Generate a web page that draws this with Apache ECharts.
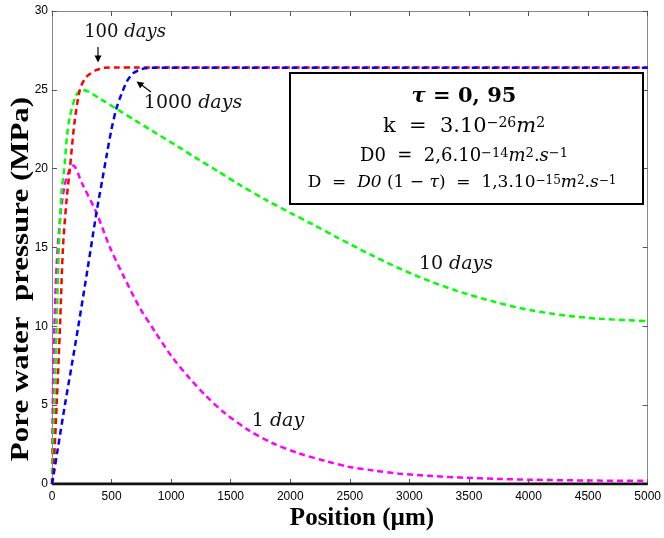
<!DOCTYPE html>
<html>
<head>
<meta charset="utf-8">
<script src="https://cdn.jsdelivr.net/npm/echarts@6/dist/echarts.min.js"></script>
<style>
  html, body { margin: 0; padding: 0; background: #fff; }
  #chart { width: 664px; height: 538px; }
</style>
</head>
<body>
<div id="chart"></div>
<script>
// ---- Data ----
const xTicks = [0, 500, 1000, 1500, 2000, 2500, 3000, 3500, 4000, 4500, 5000];
const yTicks = [0, 5, 10, 15, 20, 25, 30];

// 1 day (magenta)
const day1X = [0, 8, 20, 40, 70, 105, 140, 178, 250, 373, 484, 600, 735, 870, 1013, 1150, 1291, 1450, 1653, 1850, 2070, 2300, 2487, 2700, 2905, 3200, 3461, 3750, 4018, 4500, 5000];
const day1Y = [0, 6, 10, 14, 17, 18.9, 19.8, 20.2, 19.1, 17.2, 15.05, 13.2, 11.2, 9.6, 8.0, 6.75, 5.6, 4.5, 3.4, 2.6, 1.95, 1.45, 1.1, 0.86, 0.66, 0.5, 0.4, 0.32, 0.27, 0.22, 0.2];

// 10 days (green)
const day10X = [0, 10, 20, 39, 58, 81, 103, 125, 150, 200, 250, 300, 400, 540, 700, 818, 1068, 1194, 1400, 1569, 1800, 2000, 2200, 2404, 2700, 3044, 3400, 3740, 4000, 4297, 4600, 5000];
const day10Y = [0, 2.8, 5, 10, 15, 18.6, 20, 22, 23.3, 24.6, 25.0, 24.9, 24.45, 23.8, 23.05, 22.5, 21.35, 20.75, 19.8, 19.0, 18.0, 17.2, 16.42, 15.6, 14.45, 13.25, 12.25, 11.5, 11.05, 10.7, 10.48, 10.33];

// 100 days (red)
const day100X = [0, 15, 39, 67, 92, 122, 150, 190, 234, 275, 317, 370, 442, 550, 700, 1000, 2000, 3000, 4000, 5000];
const day100Y = [0, 1.2, 5, 10, 15, 18, 20, 23, 25, 25.7, 26.0, 26.25, 26.4, 26.42, 26.42, 26.42, 26.42, 26.42, 26.42, 26.42];

// 1000 days (blue)
const day1000X = [0, 11, 50, 108, 165, 220, 300, 373, 420, 460, 498, 540, 582, 630, 679, 730, 776, 850, 1000, 2000, 3000, 4000, 5000];
const day1000Y = [0, 0.46, 2.3, 5.0, 7.5, 9.97, 13.7, 17.2, 19.2, 20.9, 22.45, 23.8, 24.7, 25.55, 26.04, 26.25, 26.36, 26.4, 26.4, 26.4, 26.4, 26.4, 26.4];

// initial state (black zero line)
const initX = [0, 5000];
const initY = [0, 0];

const seriesNames = ['1 day', '10 days', '100 days', '1000 days'];
const seriesColors = ['#ff00ff', '#00ff00', '#ff0000', '#0000ff'];

function pairs(xs, ys) { return xs.map((x, i) => [x, ys[i]]); }

const chart = echarts.init(document.getElementById('chart'), null, { renderer: 'canvas' });

const frameColor = '#8a8a8a';
const serif = '"Liberation Serif", "Times New Roman", serif';
const mathFont = '"DejaVu Serif", serif';

function dashed(name, data, color) {
  return {
    name: name, type: 'line', data: data, xAxisIndex: 0, yAxisIndex: 0,
    showSymbol: false, smooth: 0.3,
    lineStyle: { color: color, width: 2.5, type: [6, 4] },
    silent: true, animation: false
  };
}

function supStyle(size) { return { fontFamily: mathFont, fontSize: size, verticalAlign: 'top', fill: '#000' }; }
function rmStyle(size) { return { fontFamily: mathFont, fontSize: size, fill: '#000' }; }
function itStyle(size) { return { fontFamily: mathFont, fontStyle: 'italic', fontSize: size, fill: '#000' }; }

function arrowHead(tip, tail, len, half) {
  const dx = tail[0] - tip[0], dy = tail[1] - tip[1];
  const L = Math.sqrt(dx * dx + dy * dy);
  const ux = dx / L, uy = dy / L;
  const bx = tip[0] + ux * len, by = tip[1] + uy * len;
  return [tip, [bx - uy * half, by + ux * half], [bx + uy * half, by - ux * half]];
}

function daysLabel(x, y, num, word, size) {
  return {
    type: 'text', x: x, y: y,
    style: { text: '{n|' + num + ' }{i|' + word + '}', textAlign: 'center', textVerticalAlign: 'middle',
      rich: { n: { fontFamily: mathFont, fontSize: size, fill: '#111' },
              i: { fontFamily: mathFont, fontStyle: 'italic', fontSize: size, fill: '#111' } } }
  };
}

const option = {
  animation: false,
  backgroundColor: '#fff',
  grid: { left: 52, right: 13, top: 11, bottom: 54, containLabel: false },
  xAxis: [
    {
      type: 'value', min: 0, max: 5000, interval: 500, position: 'bottom',
      axisLine: { show: true, onZero: false, lineStyle: { color: frameColor, width: 1 } },
      axisTick: { show: true, inside: true, length: 5, lineStyle: { color: '#555' } },
      axisLabel: { color: '#000', fontSize: 12, fontFamily: '"Liberation Sans", Arial, sans-serif', margin: 7,
        formatter: v => xTicks.includes(v) ? String(v) : '' },
      splitLine: { show: false }
    },
    {
      type: 'value', min: 0, max: 5000, interval: 500, position: 'top',
      axisLine: { show: true, onZero: false, lineStyle: { color: frameColor, width: 1 } },
      axisTick: { show: true, inside: true, length: 5, lineStyle: { color: '#555' } },
      axisLabel: { show: false }, splitLine: { show: false }
    }
  ],
  yAxis: [
    {
      type: 'value', min: 0, max: 30, interval: 5, position: 'left',
      axisLine: { show: true, onZero: false, lineStyle: { color: frameColor, width: 1 } },
      axisTick: { show: true, inside: true, length: 5, lineStyle: { color: '#555' } },
      axisLabel: { color: '#000', fontSize: 12, fontFamily: '"Liberation Sans", Arial, sans-serif', margin: 4,
        formatter: v => yTicks.includes(v) ? String(v) : '' },
      splitLine: { show: false }
    },
    {
      type: 'value', min: 0, max: 30, interval: 5, position: 'right',
      axisLine: { show: true, onZero: false, lineStyle: { color: frameColor, width: 1 } },
      axisTick: { show: true, inside: true, length: 5, lineStyle: { color: '#555' } },
      axisLabel: { show: false }, splitLine: { show: false }
    }
  ],
  series: [
    dashed(seriesNames[0], pairs(day1X, day1Y), seriesColors[0]),
    dashed(seriesNames[1], pairs(day10X, day10Y), seriesColors[1]),
    dashed(seriesNames[2], pairs(day100X, day100Y), seriesColors[2]),
    dashed(seriesNames[3], pairs(day1000X, day1000Y), seriesColors[3]),
    {
      name: 'initial', type: 'line', data: pairs(initX, initY), showSymbol: false,
      lineStyle: { color: '#111', width: 3 }, silent: true, animation: false, z: 1
    }
  ],
  graphic: [
    // axis titles
    {
      type: 'text', x: 21, y: 279, rotation: Math.PI / 2, scaleX: 1.19,
      style: { text: 'Pore water  pressure (MPa)', font: 'bold 26px ' + serif, fill: '#000',
        textAlign: 'center', textVerticalAlign: 'middle' }
    },
    {
      type: 'text', x: 362, y: 519,
      style: { text: 'Position (µm)', font: 'bold 25px ' + serif, fill: '#000',
        textAlign: 'center', textVerticalAlign: 'middle' }
    },
    // curve annotations
    daysLabel(125, 32, '100', 'days', 18),
    { type: 'line', shape: { x1: 98, y1: 47, x2: 98, y2: 57 }, style: { stroke: '#000', lineWidth: 1.2 } },
    { type: 'polygon', shape: { points: arrowHead([98, 62.5], [98, 47], 7, 3.5) }, style: { fill: '#000' } },
    daysLabel(193, 103, '1000', 'days', 19),
    { type: 'line', shape: { x1: 151, y1: 92, x2: 141, y2: 84.5 }, style: { stroke: '#000', lineWidth: 1.2 } },
    { type: 'polygon', shape: { points: arrowHead([136.5, 81.5], [151, 92], 7, 3.5) }, style: { fill: '#000' } },
    daysLabel(456, 264, '10', 'days', 19),
    daysLabel(278, 421, '1', 'day', 19),
    // parameter box
    {
      type: 'rect', shape: { x: 290, y: 73, width: 353, height: 131 },
      style: { fill: '#fff', stroke: '#000', lineWidth: 2 }, z: 10
    },
    {
      type: 'text', x: 464, y: 97, z: 11,
      style: { text: '{t|τ}{b| = 0, 95}', textAlign: 'center', textVerticalAlign: 'middle',
        rich: { t: { fontFamily: mathFont, fontWeight: 'bold', fontStyle: 'italic', fontSize: 21, fill: '#000' },
                b: { fontFamily: mathFont, fontWeight: 'bold', fontSize: 21, fill: '#000' } } }
    },
    {
      type: 'text', x: 464, y: 127, z: 11,
      style: { text: '{r|k  =  3.10}{s|−26}{i|m}{s|2}', textAlign: 'center', textVerticalAlign: 'middle',
        rich: { r: rmStyle(21), i: itStyle(21), s: supStyle(14) } }
    },
    {
      type: 'text', x: 464, y: 156, z: 11,
      style: { text: '{r|D0  =  2,6.10}{s|−14}{i|m}{s|2}{r|.}{i|s}{s|−1}', textAlign: 'center', textVerticalAlign: 'middle',
        rich: { r: rmStyle(18), i: itStyle(18), s: supStyle(13) } }
    },
    {
      type: 'text', x: 462, y: 183, z: 11,
      style: { text: '{r|D  =  }{i|D0}{r| (1 − }{i|τ}{r|)  =  1,3.10}{s|−15}{i|m}{s|2}{r|.}{i|s}{s|−1}', textAlign: 'center', textVerticalAlign: 'middle',
        rich: { r: rmStyle(17), i: itStyle(17), s: supStyle(12) } }
    }
  ]
};

chart.setOption(option);
</script>
</body>
</html>
